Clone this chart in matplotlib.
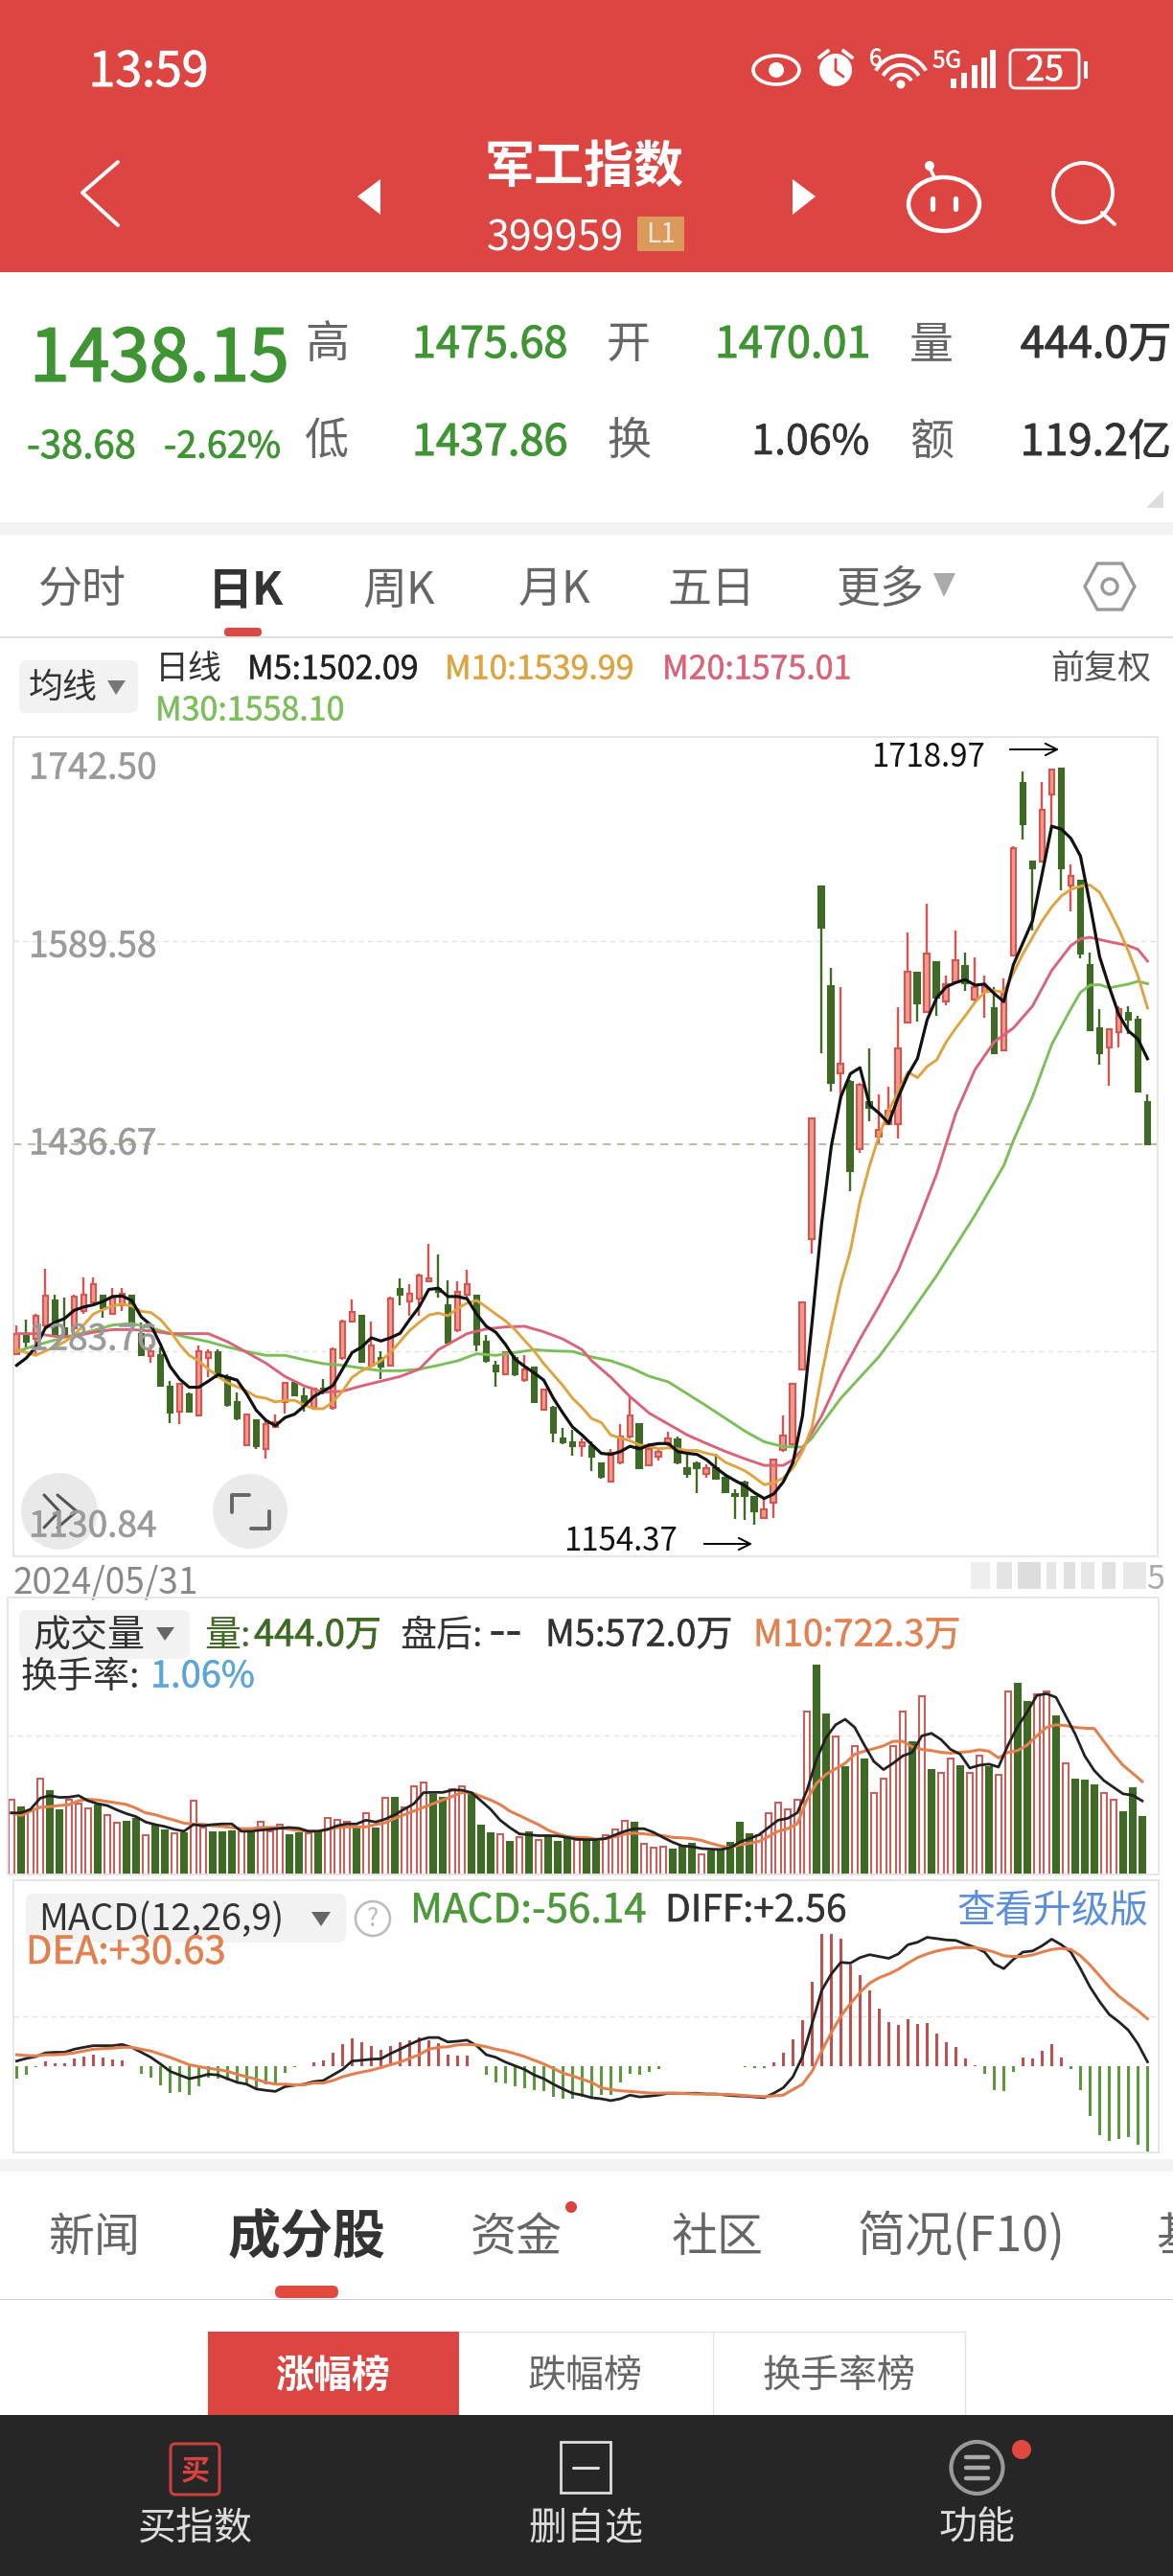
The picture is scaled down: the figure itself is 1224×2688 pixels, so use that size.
import matplotlib
matplotlib.use('Agg')
import matplotlib.pyplot as plt
import matplotlib.patheffects as pe
from matplotlib.patches import Rectangle, Circle, Ellipse, FancyBboxPatch, Polygon, Arc

plt.rcParams['font.family'] = ['Noto Sans CJK SC', 'DejaVu Sans']

# Daily candles
highs = [1303,1307.5,1311.5,1345.6,1326,1324,1326,1339,1339,1326,
1331,1331,1326,1305.5,1289,1287,1261.5,1260,1253,1288,
1285,1285,1266.4,1253.3,1237.7,1232.4,1233.6,1236.5,1261,1261,
1257,1257,1263,1287,1307.5,1322.6,1310.3,1306,1283.7,1324.7,
1338,1334,1341.5,1363.7,1356,1337,1336,1344.4,1326,1296,
1277,1284,1281,1281,1272.6,1256,1243,1226.6,1225.4,1219,
1217,1201,1211,1229.5,1250,1230.3,1215,1211,1224,1220,
1207.7,1201.6,1199.5,1207.7,1191,1181,1187.2,1176,1174,1203.6,
1235.6,1260,1320.6,1458.5,1630.5,1570,1555.8,1486,1484,1509.8,
1475.7,1481,1540.6,1596,1566,1618,1574.2,1564,1598,1581.6,
1577.5,1564,1555.8,1562,1660.4,1716.6,1650,1708.8,1718.7,1718.97,
1647.3,1635.8,1581.6,1539.3,1525,1541.4,1541.4,1534.4,1475.68]
lows = [1282,1287,1281,1301.3,1295,1295,1299,1312,1320,1309,
1312,1314,1305.5,1281,1275,1258,1230,1229.5,1238,1236,
1264.4,1264.4,1242.6,1232.4,1214,1211,1204,1226.6,1237.7,1250,
1238.5,1240.6,1252,1240.6,1277.5,1305.4,1276,1272.6,1263,1272.6,
1318.5,1310,1310,1335,1324,1290,1298,1324,1284,1275.5,
1257.4,1266.4,1265.6,1261,1245,1240.6,1216,1214.4,1206,1205,
1194.6,1188.5,1186.4,1199.5,1219,1196.7,1198.7,1202,1213,1199.5,
1189.7,1178,1189.7,1188.5,1179,1159,1157.7,1154.37,1159.7,1159.7,
1209,1213,1270.5,1356.7,1506.5,1477.8,1472.9,1403,1431.8,1455.2,
1438.8,1452.3,1442.9,1528.3,1530,1536.5,1534.4,1542.2,1557.8,1552.9,
1544.7,1532.4,1505.7,1507.7,1578.3,1665.7,1597.6,1648.5,1674.8,1627.6,
1612.4,1577.1,1523.7,1497.5,1482,1510.6,1520.9,1477,1437.86]
opens = [1282,1295,1293,1303.4,1322,1301,1301,1314,1320,1325,
1312,1318,1325,1297,1280,1281,1257.4,1239,1252,1236,
1279,1283,1264.4,1246,1214,1232.4,1211,1227.4,1246,1260,
1250,1242,1256,1242,1279,1306,1310.3,1273.4,1279,1273.4,
1330,1321,1323,1336,1330,1318,1299.5,1326,1325,1291,
1273,1266.4,1279,1262.3,1271.8,1240.6,1242,1219,1216,1213,
1213,1200,1186.4,1201,1220,1229.5,1198.7,1205,1214.3,1218.4,
1196.7,1200,1192.6,1196.7,1189.7,1177.4,1185.6,1175,1159.7,1170.8,
1210,1214.3,1270.5,1367.8,1630.5,1556.6,1491,1485,1434.7,1469.6,
1444,1453,1453,1529,1566,1537.3,1574.2,1544.7,1559,1571.4,
1546.3,1551.7,1540.2,1508.6,1579.2,1707.6,1649.3,1649.3,1699.4,1718.7,
1631.7,1635,1572.2,1525,1510.6,1522,1536.5,1531,1470.01]
closes = [1297,1291,1310,1325,1297,1297,1324.7,1326,1334,1316,
1324,1327,1305.5,1281,1284,1258,1238,1259.5,1239,1284,
1283,1264.4,1244,1233.6,1237,1213,1229.5,1231,1260,1251,
1244,1256,1254,1285,1306,1313,1276,1288,1272.6,1323,
1326,1327,1340,1338,1328,1290,1328,1334,1289,1277,
1269,1283,1266.4,1270.5,1246,1255,1223.4,1216,1213,1216,
1205,1190,1208,1220.5,1235.6,1196.7,1211,1209,1219,1200.8,
1192.6,1196.7,1196.7,1188.5,1179,1176,1176,1164.6,1166,1202.8,
1221,1259.5,1320,1457.3,1600,1484,1498.3,1418.3,1482.7,1465.5,
1449,1463.4,1509.8,1567,1543.5,1580.4,1547.5,1557.8,1575.5,1558.6,
1555.8,1555.8,1506.5,1550.4,1659.6,1676.8,1644,1688,1717.9,1644,
1638.7,1580.4,1523.7,1506.5,1524,1539.3,1531,1477.8,1438.15]

# Moving averages on the price panel
ma5 = [1273.4,1278.8,1287,1301.3,1305.4,1308.3,1314.4,1316.9,1318.5,1321,
1324.7,1325.1,1321.8,1309.5,1303.4,1289,1272.6,1263.1,1257,1257,
1261.5,1266.4,1264.4,1262.3,1252,1239.8,1232.4,1228.3,1234.4,1236.9,
1243,1250,1254.1,1258.2,1270.5,1282.9,1287,1293.9,1291.5,1293.9,
1297.2,1307.5,1316.9,1330,1330.9,1324.7,1324.7,1323,1311.6,1302.5,
1298,1289,1277.9,1272.6,1267.7,1262.3,1248.8,1237.7,1227.4,1221.3,1214.3,
1207.7,1206.9,1209,1213,1211,1213.9,1215,1215,1209,1207.7,
1206.9,1202.8,1196.7,1191.3,1187.2,1183.5,1178.2,1174,1177.4,1186.4,
1200.8,1235.6,1305.4,1379.3,1436.7,1473.7,1491,1495.4,1467.5,1461.4,
1454,1473.7,1490.1,1502.4,1531.1,1547.6,1555.8,1559,1561.1,1557,
1557.8,1550.8,1544.7,1572.2,1588.6,1605,1639.9,1675.6,1673.5,1666.6,
1653.4,1617.3,1578.3,1555.8,1535.2,1522.9,1516.8,1502.09]
ma10 = [1285,1282.9,1280.8,1284.1,1287,1291,1296,1303.4,1311.6,1314.9,
1317.7,1319,1317.7,1313.6,1312.8,1307.5,1299.3,1289,1280.8,1276.7,
1270.5,1265.2,1260.3,1257.4,1254.1,1250,1248.8,1246,1247.2,1247.2,
1243.9,1241,1241,1246,1254.1,1264.4,1269.3,1272.6,1276.7,1282.9,
1291,1299.3,1305.4,1310.8,1312.4,1310.3,1315.7,1319.8,1321.8,1316.9,
1311.6,1306.6,1300,1291.9,1284.1,1274.6,1266.4,1258.2,1248.8,1241.8,1233.6,
1230.7,1221.3,1219.2,1217.1,1213.9,1213,1211,1211.8,1211,1209.8,
1209.8,1207.7,1206.1,1200.8,1197.9,1194.6,1189.7,1184.3,1185.6,1189.3,
1196.7,1209,1227.4,1266.4,1301.3,1334.1,1358.8,1395.7,1422.4,1445,
1463.4,1477.8,1492.2,1488,1496.3,1501.2,1514.7,1525,1534.4,1544.3,
1551.7,1552.9,1551.7,1566,1580.4,1592.7,1605,1615.3,1623.5,1628.4,
1630.9,1631.7,1626.3,1613.2,1598.9,1582.4,1564,1539.99]
ma20_idx = [0,2,4,6,8,10,12,14,16,18,20,22,24,26,28,30,32,34,36,38,40,42,44,46,47,49,51,53,55,57,59,60,
62,64,66,68,70,72,74,76,78,80,81,82,83,84,86,88,90,92,94,96,98,100,102,104,106,108,110,111,112,114,116,117,118]
ma20 = [1297,1297,1295,1295,1298,1300,1300,1299,1297,1297,1297,1291,1283,1275,1265,1258,1253.3,1254,1258,1261.5,
1265,1270.5,1285,1293,1297,1300.5,1302,1302.5,1298.4,1293,1285,1276.7,
1264.4,1250,1237.7,1229.5,1221.3,1215,1209,1203.6,1198.7,1198.7,1202.8,1211,1223.3,1235.6,1266.4,1293,1317.7,
1344.4,1379.3,1416.2,1461.4,1494,1514.7,1525,1541.4,1568,1586.5,1591.5,1592.7,1589.4,1586.5,1583.7,1575.01]
ma30_idx = [0,2,4,6,8,10,12,14,16,18,20,22,24,26,28,30,32,34,36,38,40,42,44,46,48,50,52,54,56,58,60,
62,64,66,68,70,72,74,76,78,80,82,83,84,86,88,90,92,94,96,98,100,102,103,104,106,108,110,111,112,113,114,116,117,118]
ma30 = [1283.7,1288.2,1292.3,1296,1299.3,1303.4,1304.6,1301.3,1297.2,1294,1291,1287,1283.7,1280.8,1280.8,1277.5,
1274.6,1273.4,1271.3,1269.3,1269.3,1270.5,1273.4,1276.7,1282,1280.8,1282.9,1285,1284.1,1283.7,1279.6,
1276.7,1271.8,1265.2,1261,1252,1243,1233.6,1224.2,1216.3,1212.7,1212.3,1219.2,1229.5,1248.8,1264.4,1280,1299.3,
1319.8,1340.3,1362.9,1385.4,1410,1422.4,1440.9,1473.7,1512.7,1539.3,1551.6,1557,1557.4,1555,1557.8,1559.9,1558.1]
price_ticks = ['1742.50', '1589.58', '1436.67', '1283.76', '1130.84']

# Volume panel (unit: wan)
volume = [584,522,493,744,650,502,579,550,516,536,
465,402,413,430,308,379,345,322,322,570,
365,328,328,336,336,322,413,336,388,302,
322,322,328,436,428,413,365,479,356,599,
593,522,684,715,621,593,664,684,621,379,
322,316,251,288,328,271,288,251,288,265,271,
251,308,351,416,402,237,208,214,194,217,
237,157,180,194,245,402,316,308,473,559,
507,584,1263,1627,1240,1069,835,1000,892,636,
744,998,1268,1026,1385,815,792,898,844,787,
921,835,778,1425,1482,1340,1399,1425,1228,864,
735,730,693,636,584,485,670,444]
vol_ma5 = [479,479,507,593,613,599,601,613,573,550,
536,502,473,450,408,388,373,351,336,388,
379,388,393,393,336,336,345,351,359,365,
359,336,336,351,379,393,393,422,408,430,
465,507,550,636,638,638,656,656,636,573,
507,422,365,316,308,302,302,299,288,274,271,
271,279,308,336,356,356,328,288,251,222,
217,202,197,194,208,251,279,308,365,422,
436,479,650,892,1063,1163,1206,1143,1006,878,
815,864,921,949,1077,1097,1049,972,935,827,
849,858,835,1006,1149,1263,1391,1405,1377,1234,
1092,921,807,730,678,627,616,572]
vol_ma10 = [479,459,493,522,527,536,542,573,584,579,
567,556,544,516,479,465,442,422,399,390,
390,379,373,365,356,356,365,365,365,351,
342,336,336,351,365,370,370,370,388,402,
436,465,493,522,550,579,607,636,636,607,
579,544,493,459,422,388,345,316,294,288,288,
274,279,294,314,322,316,308,302,288,285,
279,265,242,222,208,231,242,257,294,336,
356,393,579,707,778,821,864,935,958,978,
1000,1035,1035,992,972,963,949,943,949,955,
969,958,906,949,963,1006,1077,1143,1163,1157,
1143,1137,1134,1035,935,849,787,722.3]

# MACD panel
diff = [3.1,4.8,6,8.4,8.8,8.8,10.8,12,13.1,13.1,
13.1,13.9,12,8.8,5.5,1.2,-3.6,-6,-8.4,-7.2,
-5.5,-6,-8.4,-10.8,-12,-15.1,-16,-16.7,-13.6,-12.7,
-12,-10.3,-9.6,-6,-2.4,3.1,3.6,4.3,4.5,7.9,
10.8,13.9,16.7,18.4,18.4,15.5,16,16.7,13.1,7.2,
5.5,2.4,0,-2.4,-6,-8.4,-12,-15.1,-17.9,-19.1,-20.8,
-21.5,-22.7,-21.5,-19.1,-20.3,-19.8,-19.1,-17.9,-17.9,-17.9,
-17.9,-18.4,-18.4,-19.1,-19.6,-19.8,-20.3,-20.8,-17.9,-14.3,
-7.2,6,27.5,49,59.8,67.4,66.9,70.5,72.4,71.2,
70,72.9,78.9,80.5,83.7,82.9,82,81.7,79.3,77.2,
74.1,66.4,63.3,69.3,74.1,74.8,78.2,82.5,78.9,74.1,
63.3,51.4,41.8,33.5,28.7,23.2,14.3,2.56]
dea = [7.2,6.7,6.5,7.2,7.2,7.6,8.4,9.6,10.8,11.2,
11.5,12,12,10.8,9.6,7.6,5.5,3.1,0.7,-0.5,
-1.7,-2.4,-3.6,-5.5,-7.2,-8.8,-10.8,-12,-12,-12.4,
-12.4,-11.2,-11.2,-9.6,-7.2,-5.5,-4.1,-2.9,-1.2,0.7,
2.4,4.8,7.2,10.8,12,12.4,13.6,13.9,13.6,12.4,
10.8,9.6,7.9,6,3.6,1.2,-1.7,-4.8,-6.5,-8.8,-10.8,
-14.3,-15.5,-16.3,-16.7,-17.2,-17.7,-17.9,-17.7,-17.9,-18.2,
-18.4,-18.4,-18.6,-18.6,-18.9,-19.4,-19.8,-20.1,-19.6,-19.1,
-15.5,-12,-3.6,9.6,21.5,32.3,40.6,47.8,53.8,57.4,
59.8,62.9,66.9,70.5,72.9,74.8,76,77,77,77,
75.8,74.1,71.7,71.2,71.2,72.2,74.1,75.8,76.5,75.8,
71.7,65.7,58.6,51.4,45.4,40.6,35.9,30.63]
macd = [-8.4,-6,-0.7,2.9,1.9,1.9,4.8,6,7.2,5.3,
4.3,3.6,-0.3,-5.5,-7.9,-12.7,-17.9,-17.4,-19.1,-13.1,
-7.9,-8.4,-9.6,-10.8,-12.7,-14.3,-12,-12,-4.8,-0.7,
-0.5,2.4,3.6,8.4,14.3,17.9,15.1,13.1,10.3,13.1,
15.1,16.7,18.4,16.7,14.8,7.2,6.5,6.7,-0.5,-6,
-10.8,-11.2,-13.1,-14.3,-16,-16.7,-20.3,-21.5,-21.5,-20.3,-20.3,
-19.1,-19.1,-10.8,-5,-6,-4,-2.2,-0.5,-0.3,-0.3,
-0.3,-0.3,-0.3,-0.3,-0.5,-0.8,-1.2,-1.4,2.4,8.8,
17.4,29.9,54.5,86,86,82.5,66.2,59.3,49,37.5,
28.2,26.8,30.6,27.5,28,20.8,15.1,12,4.8,0.5,
-5.5,-16,-16.7,-4,5.3,4.8,9.6,13.9,5.3,-2.4,
-16,-32.7,-44.9,-49,-47.8,-46.6,-51.4,-56.14]

RED = '#d9534f'
PINK = '#f09a8e'
DARKGREEN = '#3f6a25'
TXTGREEN = '#3f9433'
ORANGE = '#e2814f'
YELLOW = '#dfa33f'
ROSE = '#d9647a'
LIME = '#7cbf5a'
GRAY = '#666666'
BORDER = '#e6e6e6'

W, H = 1224, 2688
fig = plt.figure(figsize=(12.24, 26.88), dpi=100, facecolor='white')

# background axes in pixels, holds all the app chrome
bg = fig.add_axes([0, 0, 1, 1], zorder=0)
bg.set_xlim(0, W)
bg.set_ylim(H, 0)
bg.axis('off')
top = fig.add_axes([0, 0, 1, 1], zorder=10)
top.set_xlim(0, W)
top.set_ylim(H, 0)
top.axis('off')
top.patch.set_alpha(0)


# y is nudged down a little, the CJK font centres its line box above the glyphs
def txt(ax, x, y, s, px, color='#222222', ha='left', weight='normal', alpha=None, heavy=0):
    t = ax.text(x, y + 4, s, fontsize=px * 0.72, color=color, ha=ha, va='center', weight=weight, alpha=alpha)
    if heavy:
        t.set_path_effects([pe.withStroke(linewidth=heavy, foreground=color)])


def line(ax, xs, ys, color, lw=2.0):
    ax.plot(xs, ys, color=color, lw=lw, solid_capstyle='round', solid_joinstyle='round')


def box(ax, x0, y0, x1, y1, color, round_px=8):
    ax.add_patch(FancyBboxPatch((x0 + round_px, y0 + round_px), x1 - x0 - 2 * round_px, y1 - y0 - 2 * round_px,
                                boxstyle='round,pad=%d' % round_px, fc=color, ec='none'))


def panel(x0, y0, x1, y1):
    ax = fig.add_axes([x0 / W, 1 - y1 / H, (x1 - x0) / W, (y1 - y0) / H], zorder=5)
    ax.patch.set_alpha(0)
    ax.set_xticks([])
    ax.set_yticks([])
    for s in ax.spines.values():
        s.set_color(BORDER)
        s.set_linewidth(1.4)
    return ax


# header
bg.add_patch(Rectangle((0, 0), W, 284, fc='#dc4541', ec='none'))
txt(bg, 155, 72, '13:59', 50, 'white', ha='center', heavy=0.7)
txt(bg, 610, 170, '军工指数', 52, 'white', ha='center', weight='bold')
txt(bg, 508, 245, '399959', 43, 'white')
bg.add_patch(Rectangle((665, 226), 49, 36, fc='#d99a5b', ec='none'))
txt(bg, 690, 241, 'L1', 28, '#f6e7d8', ha='center')
line(bg, [123, 86, 123], [169, 201, 235], 'white', 2.8)
bg.add_patch(Polygon([(397, 187), (373, 205), (397, 224)], fc='white', ec='none'))
bg.add_patch(Polygon([(827, 187), (851, 205), (827, 224)], fc='white', ec='none'))
bg.add_patch(Ellipse((985, 213), 74, 56, fc='none', ec='white', lw=3.2))
line(bg, [975, 970], [185, 175], 'white', 2.6)
bg.add_patch(Circle((970, 173), 5, fc='white', ec='none'))
line(bg, [973, 973], [207, 218], 'white', 3.8)
line(bg, [997, 997], [207, 218], 'white', 3.8)
bg.add_patch(Ellipse((1130, 201), 62, 62, fc='none', ec='white', lw=2.8))
line(bg, [1150, 1163], [222, 234], 'white', 2.8)

# status icons
bg.add_patch(Ellipse((810, 73), 48, 30, fc='none', ec='white', lw=2.6))
bg.add_patch(Circle((810, 73), 8, fc='white', ec='none'))
bg.add_patch(Circle((872, 73), 17, fc='white', ec='none'))
line(bg, [872, 872, 880], [62, 74, 80], '#dc4541', 2)
line(bg, [855, 864], [60, 53], 'white', 2.8)
line(bg, [880, 889], [53, 60], 'white', 2.8)
txt(bg, 907, 58, '6', 24, 'white', heavy=0.4)
for r in [62, 44, 26]:
    bg.add_patch(Arc((940, 92), r, r * 1.1, theta1=215, theta2=325, ec='white', lw=2.8))
bg.add_patch(Circle((940, 88), 4.5, fc='white', ec='none'))
txt(bg, 988, 60, '5G', 24, 'white', ha='center', heavy=0.4)
for bx, by in zip([992, 1003, 1014, 1024, 1033], [82, 76, 68, 60, 52]):
    bg.add_patch(Rectangle((bx, by), 6, 92 - by, fc='white', ec='none'))
bg.add_patch(FancyBboxPatch((1060, 58), 60, 28, boxstyle='round,pad=6', fc='none', ec='white', lw=2))
txt(bg, 1090, 70, '25', 36, 'white', ha='center', heavy=0.5)
bg.add_patch(Rectangle((1131, 64), 4, 18, fc='white', ec='none'))

# quote block
txt(bg, 31, 372, '1438.15', 75, TXTGREEN, heavy=1.4)
txt(bg, 28, 463, '-38.68', 40, TXTGREEN, heavy=0.6)
txt(bg, 171, 463, '-2.62%', 38, TXTGREEN, heavy=0.6)
for x, y, s in zip([341, 341, 656, 656, 972, 972], [356, 457] * 3, ['高', '低', '开', '换', '量', '额']):
    txt(bg, x, y, s, 46, GRAY, ha='center')
txt(bg, 430, 356, '1475.68', 45, TXTGREEN, heavy=0.8)
txt(bg, 430, 458, '1437.86', 45, TXTGREEN, heavy=0.8)
txt(bg, 746, 356, '1470.01', 45, TXTGREEN, heavy=0.8)
txt(bg, 907, 458, '1.06%', 43, '#333333', ha='right', heavy=0.4)
txt(bg, 1222, 356, '444.0万', 45, '#333333', ha='right', heavy=0.8)
txt(bg, 1222, 458, '119.2亿', 45, '#333333', ha='right', heavy=0.6)
bg.add_patch(Polygon([(1214, 512), (1214, 530), (1196, 530)], fc='#dddddd', ec='none'))
bg.add_patch(Rectangle((0, 545), W, 13, fc='#f3f3f3', ec='none'))

# period tabs
for x, s in zip([86, 416, 578, 742, 919], ['分时', '周K', '月K', '五日', '更多']):
    txt(bg, x, 612, s, 46, GRAY, ha='center')
txt(bg, 256, 612, '日K', 47, '#333333', ha='center', weight='bold')
bg.add_patch(Polygon([(974, 598), (997, 598), (985, 623)], fc='#aaaaaa', ec='none'))
bg.add_patch(Polygon([(1132, 612), (1145, 588), (1171, 588), (1184, 612), (1171, 636), (1145, 636)],
                     fc='none', ec='#999999', lw=2.4))
bg.add_patch(Circle((1158, 612), 8, fc='none', ec='#999999', lw=2.4))
box(bg, 234, 655, 273, 664, '#d94a45', 4)
bg.add_patch(Rectangle((0, 664), W, 1.5, fc='#dddddd', ec='none'))

# legend row above candles
box(bg, 20, 689, 144, 744, '#f2f2f2')
txt(bg, 66, 714, '均线', 36, '#333333', ha='center')
bg.add_patch(Polygon([(112, 710), (131, 710), (121, 725)], fc='#777777', ec='none'))
txt(bg, 162, 694, '日线', 35, '#333333')
txt(bg, 258, 695, 'M5:1502.09', 34, '#222222', heavy=0.3)
txt(bg, 464, 695, 'M10:1539.99', 34, YELLOW, heavy=0.3)
txt(bg, 691, 695, 'M20:1575.01', 34, ROSE, heavy=0.3)
txt(bg, 1149, 694, '前复权', 35, '#555555', ha='center')
txt(bg, 162, 738, 'M30:1558.10', 34, LIME, heavy=0.3)

# candles
is_up = [c >= o for o, c in zip(opens, closes)]
xs = list(range(len(closes)))
pr = panel(14, 768.6, 1208, 1624)
pr.set_xlim(-0.34, 119.06)
pr.set_ylim(1130.84, 1742.50)
pr.axhline(1589.58, color='#e3e3e3', lw=1, ls=(0, (4, 3)))
pr.axhline(1283.76, color='#e3e3e3', lw=1, ls=(0, (4, 3)))
pr.axhline(closes[-1], color='#b5ad92', lw=1.2, ls=(0, (5, 4)))
wick_col = [RED if u else DARKGREEN for u in is_up]
pr.vlines(xs, lows, highs, colors=wick_col, lw=1.7, zorder=2)
body_low = [min(o, c) for o, c in zip(opens, closes)]
body_h = [abs(c - o) for o, c in zip(opens, closes)]
pr.bar(xs, body_h, bottom=body_low, width=0.58,
       color=[PINK if u else DARKGREEN for u in is_up],
       edgecolor=wick_col, linewidth=1.5, zorder=3)
pr.plot(ma30_idx, ma30, color=LIME, lw=2.1, zorder=4)
pr.plot(ma20_idx, ma20, color=ROSE, lw=2.1, zorder=4)
pr.plot(xs, ma10, color=YELLOW, lw=2.1, zorder=4)
pr.plot(xs, ma5, color='#111111', lw=2.3, zorder=5)

for y, s in zip([798, 984, 1190, 1394, 1589], price_ticks):
    txt(top, 30, y, s, 37, '#9a9a9a', alpha=0.9, heavy=0.5)
txt(top, 909, 786, '1718.97', 33, '#111111')
txt(top, 588, 1605, '1154.37', 33, '#111111')
top.annotate('', xy=(1108, 782), xytext=(1051, 782), arrowprops=dict(arrowstyle='->', color='black', lw=1.4, mutation_scale=22))
top.annotate('', xy=(788, 1611), xytext=(732, 1611), arrowprops=dict(arrowstyle='->', color='black', lw=1.4, mutation_scale=22))

# floating buttons
top.add_patch(Circle((62, 1577), 40, fc='#e6e6e6', ec='none', alpha=0.85))
top.add_patch(Circle((261, 1577), 39, fc='#e9e9e9', ec='none', alpha=0.95))
line(top, [46, 62, 46], [1560, 1577, 1594], '#555555', 2.2)
line(top, [60, 80, 60], [1560, 1577, 1594], '#555555', 2.2)
line(top, [242, 242, 260], [1578, 1560, 1560], '#666666', 2.8)
line(top, [262, 281, 281], [1595, 1595, 1577], '#666666', 2.8)

# date strip, the right end is blurred in the screenshot
txt(bg, 14, 1648, '2024/05/31', 37, '#888888')
for bx, bw, c in zip([1013, 1040, 1062, 1092, 1110, 1128, 1150, 1172],
                     [20, 16, 24, 10, 12, 14, 14, 24],
                     ['#eeeeee', '#e4e4e4', '#dddddd', '#e6e6e6', '#e0e0e0', '#e6e6e6', '#e2e2e2', '#e8e8e8']):
    bg.add_patch(Rectangle((bx, 1630), bw, 28, fc=c, ec='none'))
txt(bg, 1196, 1644, '5', 34, '#aaaaaa')

# volume
vo = panel(8, 1667, 1209, 1956)
vo.set_xlim(-0.39, 119.71)
vo.set_ylim(0, 2152)
vo.axhline(1077, color='#e3e3e3', lw=1, ls=(0, (4, 3)))
vo.bar(xs, volume, width=0.6, color=['white' if u else DARKGREEN for u in is_up],
       edgecolor=['#c9605c' if u else DARKGREEN for u in is_up], linewidth=1.5, zorder=2)
vo.plot(xs, vol_ma5, color='#222222', lw=2.0, zorder=4)
vo.plot(xs, vol_ma10, color=ORANGE, lw=2.2, zorder=3)

box(top, 20, 1680, 198, 1731, '#f2f2f2')
txt(top, 35, 1703, '成交量', 39, '#333333')
top.add_patch(Polygon([(163, 1698), (182, 1698), (172, 1712)], fc='#666666', ec='none'))
txt(top, 213, 1703, '量:', 38, DARKGREEN)
txt(top, 265, 1703, '444.0万', 38, DARKGREEN, heavy=0.5)
txt(top, 417, 1703, '盘后:', 38, '#333333')
txt(top, 510, 1700, '--', 52, '#333333')
txt(top, 569, 1703, 'M5:572.0万', 38, '#333333', heavy=0.3)
txt(top, 786, 1703, 'M10:722.3万', 38, ORANGE, heavy=0.3)
txt(top, 22, 1746, '换手率:', 38, '#333333')
txt(top, 157, 1746, '1.06%', 38, '#5ba5d8', heavy=0.3)

# macd
md = panel(14, 1962, 1209, 2245.5)
md.set_xlim(-0.34, 119.16)
md.set_ylim(-56.14, 120.9)
md.axhline(32.2, color='#e3e3e3', lw=1, ls=(0, (4, 3)))
md.bar(xs, macd, width=0.26, color=['#c0504d' if v >= 0 else '#5a9a3c' for v in macd], zorder=2)
md.plot(xs, diff, color='#222222', lw=2.0, zorder=3)
md.plot(xs, dea, color=ORANGE, lw=2.2, zorder=4)

box(top, 27, 1976, 361, 2027, '#f2f2f2')
txt(top, 40, 2000, 'MACD(12,26,9)', 38, '#333333')
top.add_patch(Polygon([(325, 1995), (345, 1995), (335, 2010)], fc='#666666', ec='none'))
top.add_patch(Circle((389, 2002), 18, fc='white', ec='#bbbbbb', lw=1.8))
txt(top, 389, 1999, '?', 26, '#bbbbbb', ha='center')
txt(top, 428, 1990, 'MACD:-56.14', 42, '#4c9a3a', heavy=0.4)
txt(top, 694, 1990, 'DIFF:+2.56', 39, '#333333', heavy=0.3)
txt(top, 999, 1991, '查看升级版', 40, '#5b8fd9')
txt(top, 27, 2034, 'DEA:+30.63', 40, ORANGE, heavy=0.4)

# lower tabs
bg.add_patch(Rectangle((0, 2253), W, 13, fc='#f3f3f3', ec='none'))
for x, s, px in zip([98, 539, 749, 1003], ['新闻', '资金', '社区', '简况(F10)'], [48, 48, 48, 50]):
    txt(bg, x, 2331, s, px, GRAY, ha='center')
txt(bg, 320, 2331, '成分股', 55, '#333333', ha='center', weight='bold')
txt(bg, 1206, 2331, '基', 48, GRAY)
bg.add_patch(Ellipse((596, 2303), 12, 12, fc='#d9423e', ec='none'))
box(bg, 287, 2385, 353, 2398, '#e24b3c', 6)
bg.add_patch(Rectangle((0, 2398.5), W, 1.5, fc='#cccccc', ec='none'))

# segment buttons
bg.add_patch(Rectangle((217, 2433), 790, 90, fc='white', ec='#e3e3e3', lw=1))
bg.add_patch(Rectangle((217, 2433), 262, 90, fc='#dc4541', ec='none'))
line(bg, [744, 744], [2433, 2520], '#e3e3e3', 0.9)
txt(bg, 347, 2476, '涨幅榜', 40, 'white', ha='center', weight='bold')
txt(bg, 611, 2476, '跌幅榜', 40, GRAY, ha='center')
txt(bg, 876, 2476, '换手率榜', 40, GRAY, ha='center')

# bottom bar
bg.add_patch(Rectangle((0, 2520), W, 168, fc='#262626', ec='none', zorder=3))
top.add_patch(FancyBboxPatch((183, 2555), 41, 43, boxstyle='round,pad=5', fc='none', ec='#c9403c', lw=2.2))
txt(top, 203.5, 2574, '买', 30, '#d9423e', ha='center', weight='bold')
top.add_patch(Rectangle((585, 2548), 52, 53, fc='none', ec='#dddddd', lw=2))
line(top, [598, 624], [2575, 2575], '#dddddd', 2.2)
top.add_patch(Ellipse((1019.5, 2575), 54, 54, fc='none', ec='#999999', lw=3))
for yy in [2564, 2575, 2586]:
    line(top, [1008, 1031], [yy, yy], '#aaaaaa', 3.2)
top.add_patch(Ellipse((1066, 2556), 20, 20, fc='#e0473f', ec='none'))
txt(top, 204, 2635, '买指数', 40, '#dddddd', ha='center')
txt(top, 611, 2635, '删自选', 40, '#dddddd', ha='center')
txt(top, 1019.5, 2635, '功能', 40, '#dddddd', ha='center')

fig.savefig('out.png', dpi=100, facecolor='white')
